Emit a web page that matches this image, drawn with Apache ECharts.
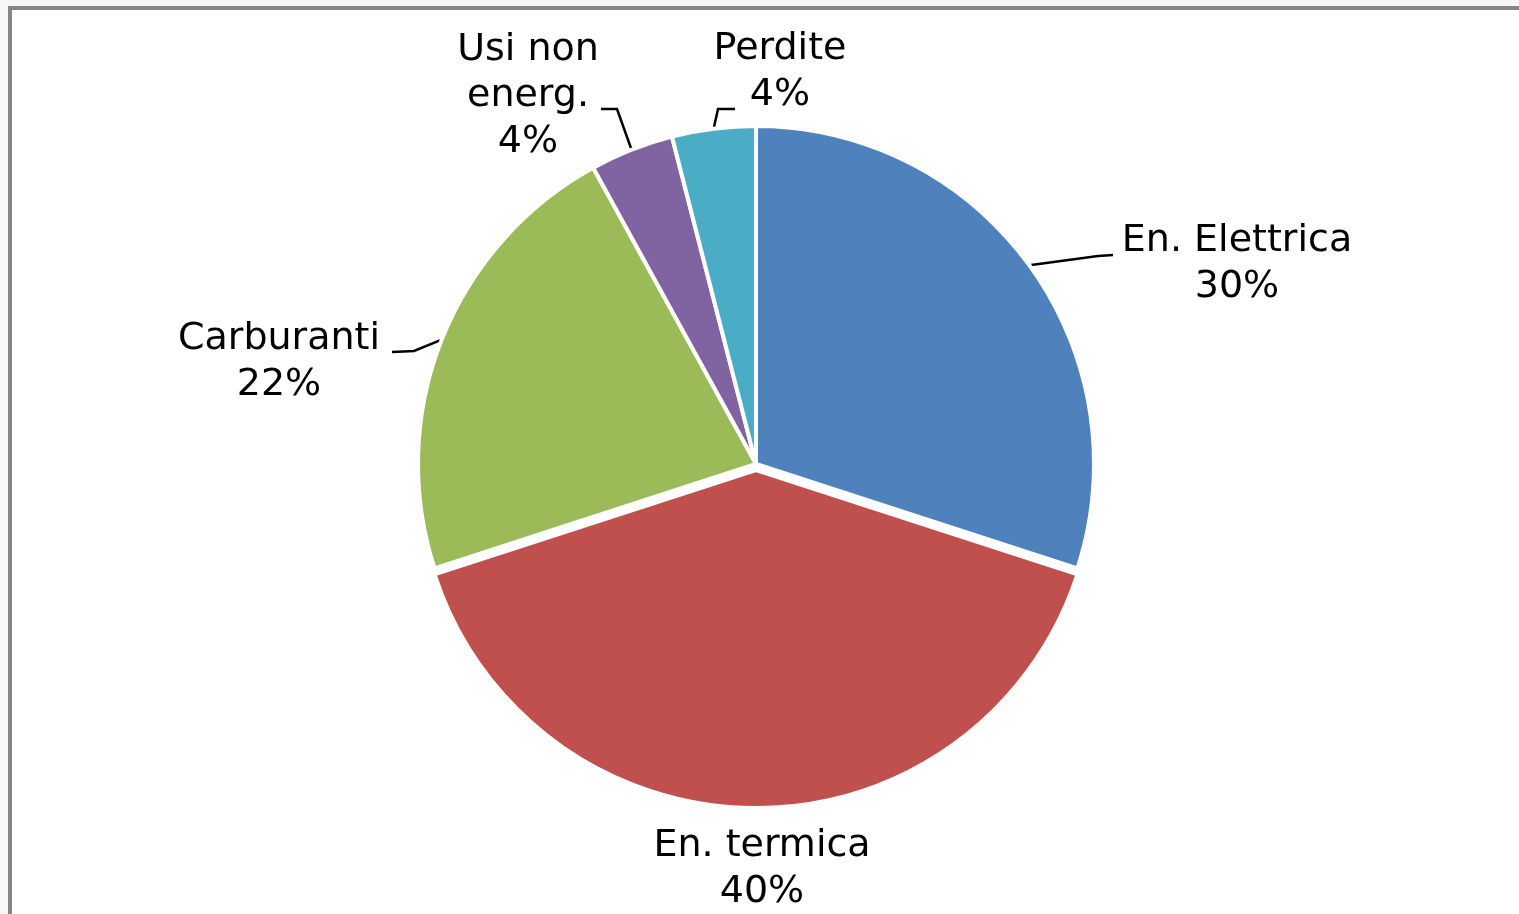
<!DOCTYPE html>
<html>
<head>
<meta charset="utf-8">
<script src="https://cdn.jsdelivr.net/npm/echarts@6/dist/echarts.min.js"></script>
<style>
    html, body { margin: 0; padding: 0; background: #f7f7f7; overflow: hidden; }
    .frame {
        position: absolute; left: 8px; top: 6px; width: 1600px; height: 1000px;
        border: 4px solid #868686; background: #fff;
    }
    .charts { position: absolute; left: 0; top: 0; width: 1519px; height: 914px; }
</style>
</head>
<body>
<div class="frame"></div>
<div id="dom" class="charts"></div>
<script>
    // data
    let categories = ['En. Elettrica', 'En. termica', 'Carburanti', 'Usi non\nenerg.', 'Perdite']
    let values = [30, 40, 22, 4, 4]
    let colors = ['#4f81bd', '#c0504d', '#9bbb59', '#8064a2', '#4bacc6']

    // where each label sits (text centre) and the bend of its leader line;
    // the exploded slice keeps the library's own outside placement (len / len2)
    let labelPos = [
        { x: 1237, y: 264, line: [[1098, 256], [1113, 255]] },
        { len: 61, len2: 1 },
        { x: 279, y: 362, line: [[414, 351], [392, 352]] },
        { x: 528, y: 96, line: [[617, 109], [601, 109]] },
        { x: 780, y: 72, line: [[718, 109], [735, 109]] }
    ]

    let pieData = categories.map((name, i) => {
        let p = labelPos[i]
        let item = {
            name: name,
            value: values[i],
            itemStyle: { color: colors[i] }
        }
        if (p.len !== undefined) {
            item.selected = true
            item.labelLine = { show: false, length: p.len, length2: p.len2 }
        }
        return item
    })

    let option = {
        animation: false,
        series: [
            {
                type: 'pie',
                center: [756, 464],
                radius: 338,
                startAngle: 90,
                clockwise: true,
                selectedMode: 'multiple',
                selectedOffset: 6,
                percentPrecision: 0,
                emphasis: { disabled: true },
                itemStyle: { borderColor: '#fff', borderWidth: 4 },
                label: {
                    show: true,
                    position: 'outside',
                    formatter: '{b}\n{d}%',
                    fontFamily: 'DejaVu Sans',
                    fontSize: 38,
                    lineHeight: 46,
                    color: '#000',
                    align: 'center'
                },
                labelLine: {
                    show: true,
                    length: 20,
                    length2: 20,
                    lineStyle: { color: '#000', width: 2.5 }
                },
                labelLayout: function (params) {
                    let p = labelPos[params.dataIndex]
                    if (p.x === undefined) return { align: 'center', verticalAlign: 'middle' }
                    let res = { x: p.x, y: p.y, align: 'center', verticalAlign: 'middle' }
                    if (p.line && params.labelLinePoints) {
                        res.labelLinePoints = [params.labelLinePoints[0]].concat(p.line)
                    }
                    return res
                },
                data: pieData
            }
        ]
    }
    let chart = echarts.init(document.getElementById('dom'))
    chart.setOption(option)
</script>
</body>
</html>
